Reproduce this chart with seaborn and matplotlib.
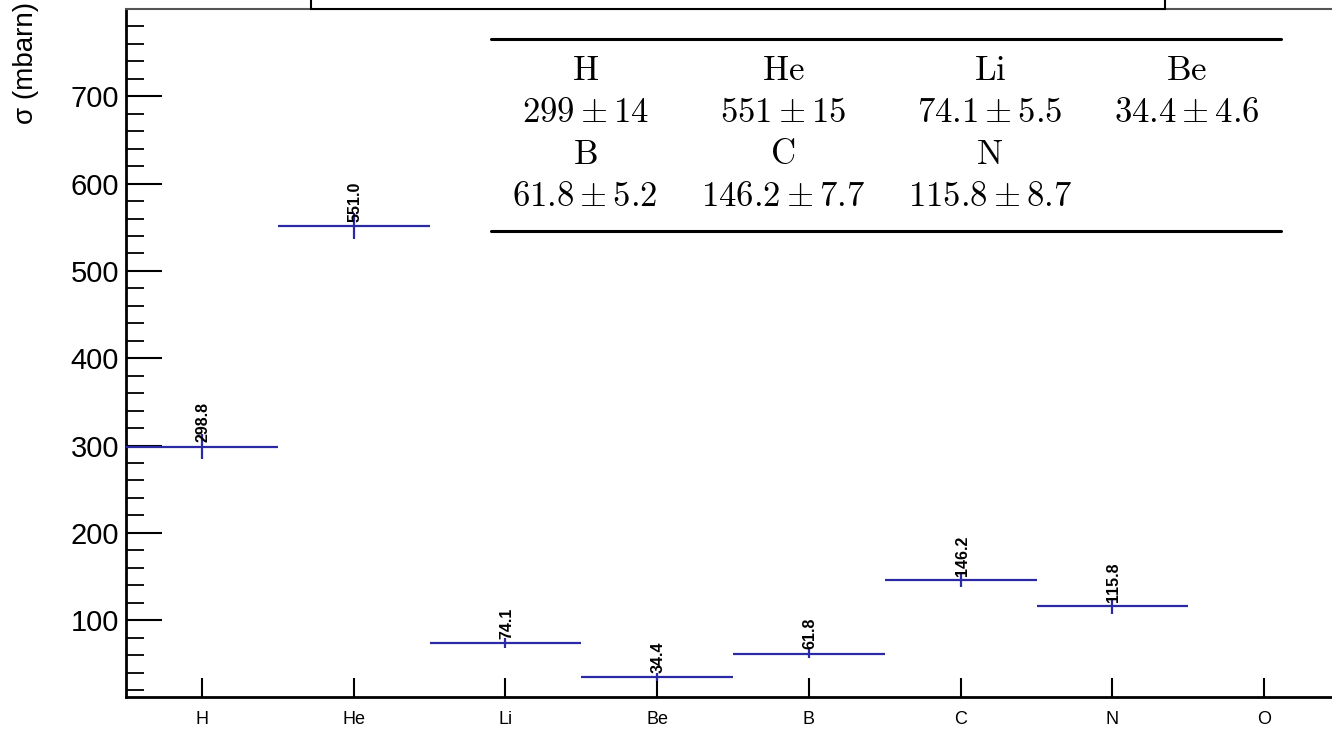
import numpy as np
import matplotlib
matplotlib.use("Agg")
import matplotlib.pyplot as plt
import seaborn as sns
from matplotlib.lines import Line2D
from matplotlib.patches import Rectangle
from matplotlib.ticker import MultipleLocator

# Data
elements = ["H", "He", "Li", "Be", "B", "C", "N", "O"]
sigma = [298.8, 551.0, 74.1, 34.4, 61.8, 146.2, 115.8]
sigma_err = [14, 15, 5.5, 4.6, 5.2, 7.7, 8.7]
table_names = ["H", "He", "Li", "Be", "B", "C", "N"]
table_vals = ["299", "551", "74.1", "34.4", "61.8", "146.2", "115.8"]
table_errs = ["14", "15", "5.5", "4.6", "5.2", "7.7", "8.7"]

sns.set_style("white")
plt.rcParams["font.family"] = ["Liberation Sans", "DejaVu Sans"]
plt.rcParams["mathtext.fontset"] = "cm"
plt.rcParams["text.color"] = "black"
plt.rcParams["axes.labelcolor"] = "black"
plt.rcParams["xtick.color"] = "black"
plt.rcParams["ytick.color"] = "black"

blue = "#2a2aa6"

fig = plt.figure(figsize=(13.32, 7.31), dpi=100)
ax = fig.add_axes([126 / 1332, 34 / 731, 1214 / 1332, 688 / 731])

x = np.arange(len(sigma))
ax.hlines(sigma, x - 0.5, x + 0.5, color=blue, lw=1.6, zorder=3)
ax.vlines(x, np.array(sigma) - np.array(sigma_err), np.array(sigma) + np.array(sigma_err),
          color=blue, lw=1.6, zorder=3)
for xi, v in zip(x, sigma):
    ax.annotate(f"{v:.1f}", (xi, v), xytext=(1, 3), textcoords="offset points",
                rotation=90, ha="center", va="bottom", fontsize=11.5,
                fontweight="bold", color="black")

ax.set_xlim(-0.5, 7.5)
ax.set_ylim(12, 800)
ax.set_xticks(np.arange(len(elements)))
ax.set_xticklabels(elements)
ax.yaxis.set_major_locator(MultipleLocator(100))
ax.yaxis.set_minor_locator(MultipleLocator(20))
ax.set_yticks([100, 200, 300, 400, 500, 600, 700])

ax.tick_params(axis="y", which="major", direction="in", length=26, width=1.5,
               labelsize=21, pad=5, left=True, right=False)
ax.tick_params(axis="y", which="minor", direction="in", length=13, width=1.3,
               left=True, right=False)
ax.tick_params(axis="x", which="major", direction="in", length=14, width=1.5,
               labelsize=13, pad=10, bottom=True, top=False)

for s in ["left", "bottom"]:
    ax.spines[s].set_color("black")
    ax.spines[s].set_linewidth(2)
ax.spines["top"].set_color("#555555")
ax.spines["top"].set_linewidth(1.5)
ax.spines["right"].set_visible(False)

ax.set_ylabel("σ (mbarn)", fontsize=20, loc="top")
ax.yaxis.set_label_coords(-0.072, 1.01)

# title box (clipped at top)
fig.patches.append(Rectangle((311 / 1332, 1 - 9 / 731), 854 / 1332, 0.1,
                             transform=fig.transFigure, facecolor="white",
                             edgecolor="black", lw=1.5))

# results table
col_x = [585, 783, 990, 1187]
row_y = [70, 112, 155, 197]
for k, (n, v, e) in enumerate(zip(table_names, table_vals, table_errs)):
    r, c = divmod(k, 4)
    fx = col_x[c] / 1332
    fig.text(fx, 1 - row_y[2 * r] / 731, rf"$\mathrm{{{n}}}$", ha="center", va="center",
             fontsize=25)
    fig.text(fx, 1 - row_y[2 * r + 1] / 731, rf"${v} \pm {e}$", ha="center", va="center",
             fontsize=25)
for yl in [39, 231]:
    fig.lines.append(Line2D([491 / 1332, 1281 / 1332], [1 - yl / 731, 1 - yl / 731],
                            transform=fig.transFigure, color="black", lw=2.2))

fig.savefig("out.png", dpi=100)
